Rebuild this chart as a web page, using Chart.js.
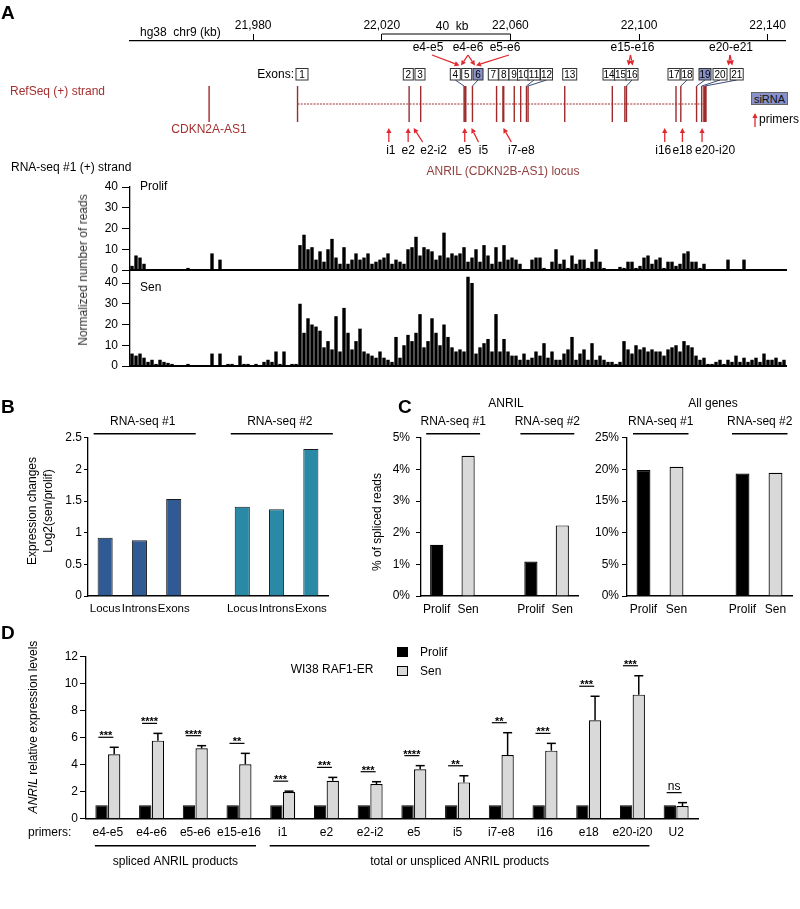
<!DOCTYPE html>
<html>
<head>
<meta charset="utf-8">
<title>ANRIL expression in senescence</title>
<script src="https://cdn.jsdelivr.net/npm/chart.js@4.4.1/dist/chart.umd.min.js"></script>
<style>
  html, body { margin: 0; padding: 0; background: #fff; }
  #stage { position: relative; width: 800px; height: 909px; overflow: hidden; font-family: "Liberation Sans", Arial, sans-serif; }
  #stage canvas { position: absolute; left: 0; top: 0; }
  .lbl { position: absolute; line-height: 1; white-space: pre; }
  .sq { position: absolute; width: 11px; height: 10px; box-sizing: border-box; border: 1px solid #000; }
</style>
</head>
<body>
<div id="stage"></div>
<script>
// ---------- data ----------
// panel A: genome browser (kb on chr9, hg38)
const genomeTicks = [21980, 22020, 22060, 22100, 22140];
const scaleBarKb = [22020, 22060];
const cdkn2aAs1Kb = 21966.3;
const exonKb = [21993.8, 22028.5, 22032.1, 22045.6, 22046.0, 22048.2, 22055.7, 22057.8, 22061.2, 22063.2,
                22065.0, 22065.5, 22076.9, 22091.7, 22095.6, 22096.1, 22111.5, 22113.0, 22117.9, 22119.5, 22120.5];
const sirnaExons = [6, 19];
const primerNames = ['i1', 'e2', 'e2-i2', 'e5', 'i5', 'i7-e8', 'i16', 'e18', 'e20-i20'];
const primerKb = [22022.2, 22028.2, 22029.9, 22045.8, 22047.9, 22057.8, 22108.0, 22113.5, 22119.6];
const junctionNames = ['e4-e5', 'e4-e6', 'e5-e6', 'e15-e16', 'e20-e21'];

// RNA-seq #1 (+) strand coverage, binned along the locus
const readTicks = [0, 10, 20, 30, 40];
const prolifReads = [
  2, 7, 6, 3, 0.5, 0, 0, 0, 0, 0,
  0, 0, 0, 0, 1, 0, 0, 0, 0, 0,
  8, 0, 5, 0.5, 0, 0, 0, 0, 0, 0,
  0, 0, 0, 0, 0, 0, 0, 0, 0, 0,
  0, 0, 12, 17, 10, 11, 5, 9, 4, 10,
  15, 6, 3, 11, 3, 5, 8, 5, 6, 8,
  3, 4, 5, 6, 8, 3, 5, 4, 3, 10,
  11, 16, 7, 11, 10, 9, 5, 7, 18, 6,
  8, 7, 8, 11, 4, 6, 10, 4, 12, 7,
  3, 11, 4, 12, 5, 6, 5, 3, 0.5, 0,
  5, 6, 6, 1, 0.5, 4, 10, 3, 5, 1,
  7, 3, 5, 5, 1, 4, 10, 4, 1, 0,
  0, 0, 1.5, 1, 4, 4, 1, 2, 6, 7,
  3, 5, 6, 1, 4, 4, 2, 3, 8, 9,
  4, 4, 1, 3, 0, 0, 0, 0, 0, 5,
  0, 0, 0, 5, 0, 0, 0, 0, 0, 0,
  0, 0, 0, 0
];
const senReads = [
  6, 5, 6, 4, 2, 3, 1, 3, 2, 1.5,
  1, 0, 0, 0, 1, 0, 0, 0, 0, 0,
  6, 0.5, 6, 0.5, 1, 1, 0, 5, 1, 1,
  0, 1, 0.5, 2, 3, 2, 7, 1, 7, 0.5,
  1, 1, 30, 16, 23, 20, 19, 17, 9, 12,
  8, 24, 7, 28, 16, 8, 12, 18, 7, 6,
  5, 4, 7, 4, 3, 2, 14, 4, 10, 15,
  12, 16, 25, 9, 12, 23, 16, 10, 20, 14,
  9, 7, 8, 7, 43, 40, 6, 9, 11, 13,
  7, 25, 7, 13, 7, 5, 5, 3, 6, 3,
  4, 7, 5, 11, 4, 7, 3, 3, 6, 8,
  14, 3, 6, 8, 3, 11, 3, 5, 3, 2,
  2, 1, 2, 12, 8, 6, 10, 8, 9, 7,
  8, 7, 7, 5, 8, 9, 10, 7, 12, 10,
  9, 5, 3, 4, 1, 1, 2, 3, 1, 3,
  2, 5, 2, 4, 2, 3, 4, 2, 6, 3,
  3, 4, 2, 3
];

// panel B
const bGroups = ['RNA-seq #1', 'RNA-seq #2'];
const bCategories = ['Locus', 'Introns', 'Exons', '', 'Locus', 'Introns', 'Exons'];
const bValues = [0.92, 0.88, 1.53, null, 1.41, 1.37, 2.32];

// panel C
const cGroups = ['RNA-seq #1', 'RNA-seq #2'];
const cCategories = ['Prolif', 'Sen', '', 'Prolif', 'Sen'];
const anrilSpliced = [1.62, 4.43, null, 1.09, 2.23];
const allGenesSpliced = [19.9, 20.4, null, 19.35, 19.45];

// panel D
const dPrimers = ['e4-e5', 'e4-e6', 'e5-e6', 'e15-e16', 'i1', 'e2', 'e2-i2', 'e5', 'i5', 'i7-e8', 'i16', 'e18', 'e20-i20', 'U2'];
const dProlif = [1, 1, 1, 1, 1, 1, 1, 1, 1, 1, 1, 1, 1, 1];
const dSen = [4.77, 5.78, 5.21, 4.03, 1.97, 2.81, 2.57, 3.66, 2.69, 4.72, 5.04, 7.29, 9.19, 0.94];
const dSenErr = [0.52, 0.54, 0.2, 0.81, 0.07, 0.25, 0.17, 0.27, 0.49, 1.65, 0.54, 1.78, 1.4, 0.25];
const dSig = ['***', '****', '****', '**', '***', '***', '***', '****', '**', '**', '***', '***', '***', 'ns'];
const dGroupNames = ['spliced ANRIL products', 'total or unspliced ANRIL products'];
const dGroupSizes = [4, 9];

// ---------- layout helpers ----------
const W = 800, H = 909;
const FONT = '"Liberation Sans", Arial, sans-serif';
const RED = '#e0282e', GENE = '#9e2a2b';
const stage = document.getElementById('stage');

Chart.defaults.font.family = FONT;
Chart.defaults.font.size = 12;
Chart.defaults.color = '#000';
Chart.defaults.animation = false;
Chart.defaults.responsive = false;
Chart.defaults.events = [];
Chart.defaults.plugins.legend.display = false;
Chart.defaults.plugins.tooltip.enabled = false;

function makeCanvas() {
  const c = document.createElement('canvas');
  c.width = W; c.height = H;
  stage.appendChild(c);
  return c;
}

// chart area exactly at [l,r] x [t,b]
function area(l, t, r, b, yW, xH) {
  return { autoPadding: false, padding: { left: l - yW, top: t, right: W - r, bottom: H - b - xH } };
}

function label(html, x, y, o) {
  o = o || {};
  const d = document.createElement('div');
  d.className = 'lbl';
  d.innerHTML = html;
  d.style.left = x + 'px';
  d.style.top = y + 'px';
  d.style.fontSize = (o.size || 12) + 'px';
  if (o.bold) d.style.fontWeight = 'bold';
  d.style.color = o.color || '#000';
  const tx = o.align === 'left' ? '0' : o.align === 'right' ? '-100%' : '-50%';
  d.style.transform = 'translate(' + tx + ', -50%)' + (o.rotate ? ' rotate(-90deg)' : '');
  stage.appendChild(d);
}

function yAxis(width, min, max, ticks, tickLength) {
  return {
    min: min, max: max,
    grid: { drawOnChartArea: false, drawTicks: true, tickLength: tickLength || 5, color: '#000' },
    border: { display: true, color: '#000', width: 1.3 },
    ticks: Object.assign({ padding: 3, color: '#000' }, ticks),
    afterFit: s => { s.width = width; }
  };
}

function catAxis(height, pad, size) {
  return {
    grid: { display: false, drawTicks: false },
    border: { display: true, color: '#000', width: 1.5 },
    ticks: { padding: pad, maxRotation: 0, minRotation: 0, autoSkip: false, color: '#000', font: { size: size || 12 } },
    afterFit: s => { s.height = height; }
  };
}

function seg(ctx, x1, y1, x2, y2) {
  ctx.beginPath(); ctx.moveTo(x1, y1); ctx.lineTo(x2, y2); ctx.stroke();
}

function arrow(ctx, x1, y1, x2, y2) {
  const a = Math.atan2(y2 - y1, x2 - x1), hl = 5, hw = 2.6;
  const bx = x2 - hl * Math.cos(a), by = y2 - hl * Math.sin(a);
  ctx.strokeStyle = RED; ctx.fillStyle = RED; ctx.lineWidth = 1.3;
  seg(ctx, x1, y1, bx, by);
  ctx.beginPath();
  ctx.moveTo(x2, y2);
  ctx.lineTo(bx + hw * Math.sin(a), by - hw * Math.cos(a));
  ctx.lineTo(bx - hw * Math.sin(a), by + hw * Math.cos(a));
  ctx.closePath(); ctx.fill();
}

// group captions with a rule (panels B, C, D)
const groupLines = {
  id: 'groupLines',
  afterDraw(chart, args, opts) {
    if (!opts.groups) return;
    const ctx = chart.ctx, xs = chart.scales.x;
    ctx.save();
    ctx.strokeStyle = '#000'; ctx.lineWidth = 1.5; ctx.fillStyle = '#000';
    ctx.font = '12px ' + FONT; ctx.textAlign = 'center'; ctx.textBaseline = 'middle';
    opts.groups.forEach(g => {
      const x1 = xs.getPixelForValue(g.from) - opts.padL;
      const x2 = xs.getPixelForValue(g.to) + opts.padR;
      seg(ctx, x1, opts.lineY, x2, opts.lineY);
      ctx.fillText(g.label, (x1 + x2) / 2 + (opts.textDx || 0), opts.textY);
    });
    ctx.restore();
  }
};

// ---------- panel A: gene model ----------
const exonBoxX = [302, 408.3, 420, 455.3, 466.7, 478, 493.3, 503.8, 514, 523.5, 534, 546.5, 569.7,
                  609, 620.5, 632, 674, 687, 705, 720, 736.7];
const exonBoxW = [12, 10, 10, 10, 10, 10, 10, 10, 10, 12, 12, 12, 14, 12, 12, 12, 12, 12, 12, 14, 13];
const linkedExons = [4, 6, 11, 12, 16, 18, 19, 20, 21];
const primerTailDx = [0, 0, 9, 0, 7, 8, 0, 0, 0];
const primerLabelDx = [2, 0, 20, 0, 12, 18, -1.5, 0, 13];
const junctionLayout = [
  { x: 428, from: 432, tips: [459.5] },
  { x: 468, from: 468, tips: [461, 475] },
  { x: 505, from: 509, tips: [476] },
  { x: 632.5, from: 630.5, tips: [628.3, 632.7] },
  { x: 731, from: 730, tips: [728.3, 732.3] }
];

const geneAnnot = {
  id: 'geneAnnot',
  afterDatasetsDraw(chart) {
    const ctx = chart.ctx, xs = chart.scales.x;
    const y0 = chart.scales.y.getPixelForValue(0);
    ctx.save();
    // 40 kb scale bar
    const s1 = xs.getPixelForValue(scaleBarKb[0]), s2 = xs.getPixelForValue(scaleBarKb[1]);
    ctx.strokeStyle = '#000'; ctx.lineWidth = 1.2;
    seg(ctx, s1, 34, s2, 34);
    ctx.fillStyle = '#000'; ctx.font = '12px ' + FONT; ctx.textAlign = 'center'; ctx.textBaseline = 'middle';
    ctx.fillText((scaleBarKb[1] - scaleBarKb[0]) + '  kb', (s1 + s2) / 2 + 6, 27);

    // exon number boxes
    const bt = y0 - 35.5, bh = 11.5;
    ctx.strokeStyle = '#3b4a78'; ctx.lineWidth = 1;
    linkedExons.forEach(n => {
      seg(ctx, exonBoxX[n - 1], bt + bh, xs.getPixelForValue(exonKb[n - 1]), y0 - 18);
    });
    ctx.font = '10px ' + FONT;
    exonKb.forEach((kb, i) => {
      const w = exonBoxW[i], x = exonBoxX[i] - w / 2;
      ctx.fillStyle = sirnaExons.includes(i + 1) ? '#8892c9' : '#fff';
      ctx.fillRect(x, bt, w, bh);
      ctx.strokeStyle = '#333';
      ctx.strokeRect(x, bt, w, bh);
      ctx.fillStyle = '#000';
      ctx.fillText(String(i + 1), exonBoxX[i], bt + bh / 2 + 0.5);
    });

    // junction primers (above)
    ctx.font = '12px ' + FONT;
    junctionNames.forEach((name, i) => {
      const j = junctionLayout[i];
      ctx.fillStyle = '#000';
      ctx.fillText(name, j.x, y0 - 56);
      j.tips.forEach(t => arrow(ctx, j.from, y0 - 49, t, y0 - 38.5));
    });

    // primers (below)
    primerNames.forEach((name, i) => {
      const px = xs.getPixelForValue(primerKb[i]);
      arrow(ctx, px + primerTailDx[i], y0 + 38, px, y0 + 24);
      ctx.fillStyle = '#000';
      ctx.font = '12px ' + FONT;
      ctx.fillText(name, px + primerLabelDx[i], y0 + 47);
    });

    // primers legend
    arrow(ctx, 755, 127, 755, 113);
    ctx.fillStyle = '#000'; ctx.textAlign = 'left';
    ctx.fillText('primers', 759, 120);
    ctx.restore();
  }
};

new Chart(makeCanvas(), {
  type: 'scatter',
  data: {
    datasets: [
      {
        type: 'line',
        data: [{ x: exonKb[0], y: 0 }, { x: exonKb[exonKb.length - 1], y: 0 }],
        borderColor: GENE, borderWidth: 1, borderDash: [2, 1.2], pointRadius: 0
      },
      {
        data: exonKb.map(x => ({ x: x, y: 0 })).concat([{ x: cdkn2aAs1Kb, y: 0 }]),
        pointStyle: 'line', pointRotation: 90, pointRadius: 18, pointHoverRadius: 18,
        pointBorderColor: GENE,
        pointBorderWidth: c => (c.dataIndex === 20 ? 3.5 : (c.dataIndex === 4 || c.dataIndex === 7) ? 2.2 : 1.4)
      }
    ]
  },
  options: {
    layout: { autoPadding: false, padding: { left: 130, top: 0, right: 15, bottom: H - 167 } },
    scales: {
      x: {
        type: 'linear', position: 'top', min: 21941.7, max: 22145.4,
        afterBuildTicks: s => { s.ticks = genomeTicks.map(v => ({ value: v })); },
        ticks: { callback: v => v.toLocaleString('en-US'), padding: 1, maxRotation: 0, color: '#000' },
        grid: { drawOnChartArea: false, drawTicks: true, tickLength: 7, color: '#000' },
        border: { display: true, color: '#000', width: 1.2 },
        afterFit: s => { s.height = 41; }
      },
      y: { display: false, min: -1, max: 1 }
    }
  },
  plugins: [geneAnnot]
});

// ---------- panel A: coverage tracks ----------
function trackChart(values, top, zeroY, fortyY) {
  const max = 40 * (zeroY - top) / (zeroY - fortyY);
  return new Chart(makeCanvas(), {
    type: 'bar',
    data: {
      labels: values.map((_, i) => i),
      datasets: [{ data: values, backgroundColor: '#000', borderWidth: 0, categoryPercentage: 0.85, barPercentage: 1 }]
    },
    options: {
      layout: area(130, top, 786, zeroY, 60, 0),
      scales: {
        x: {
          ticks: { display: false },
          grid: { display: false, drawTicks: false },
          border: { display: true, color: '#000', width: 2 },
          afterFit: s => { s.height = 0; }
        },
        y: Object.assign(yAxis(60, 0, max, { padding: 4 }, 8), {
          afterBuildTicks: s => { s.ticks = readTicks.map(v => ({ value: v })); }
        })
      }
    }
  });
}
trackChart(prolifReads, 187, 270, 187);
trackChart(senReads, 270, 366, 283);

// ---------- panel B ----------
new Chart(makeCanvas(), {
  type: 'bar',
  data: {
    labels: bCategories,
    datasets: [{
      data: bValues,
      backgroundColor: bValues.map((_, i) => (i < 3 ? '#2f5a93' : '#2a8aa6')),
      borderColor: '#1b1b1b', borderWidth: 1,
      categoryPercentage: 0.44, barPercentage: 1
    }]
  },
  options: {
    layout: area(88, 437.7, 328, 596, 50, 25),
    scales: {
      x: catAxis(25, 6, 11.5),
      y: yAxis(50, 0, 2.5, { stepSize: 0.5, padding: 2, callback: v => String(v) }, 4)
    },
    plugins: {
      groupLines: {
        groups: bGroups.map((g, k) => ({ label: g, from: k * 4, to: k * 4 + 2 })),
        padL: 11.5, padR: 22, lineY: 433.7, textY: 421.7, textDx: -2
      }
    }
  },
  plugins: [groupLines]
});

// ---------- panel C ----------
function splicedChart(values, l, r, max, step, ylPad) {
  new Chart(makeCanvas(), {
    type: 'bar',
    data: {
      labels: cCategories,
      datasets: [{
        data: values,
        backgroundColor: cCategories.map(c => (c === 'Sen' ? '#d9d9d9' : '#000')),
        borderColor: '#000', borderWidth: 1.2,
        categoryPercentage: 0.42, barPercentage: 1
      }]
    },
    options: {
      layout: area(l, 437.7, r, 596, 50, 25),
      scales: {
        x: catAxis(25, 6),
        y: yAxis(50, 0, max, { stepSize: step, padding: ylPad, callback: v => v + '%' }, 5)
      },
      plugins: {
        groupLines: {
          groups: cGroups.map((g, k) => ({ label: g, from: k * 3, to: k * 3 + 1 })),
          padL: 10.5, padR: 12, lineY: 433.7, textY: 421.7
        }
      }
    },
    plugins: [groupLines]
  });
}
splicedChart(anrilSpliced, 421, 578, 5, 1, 6);
splicedChart(allGenesSpliced, 627, 792, 25, 5, 3);

// ---------- panel D ----------
const dAnnot = {
  id: 'dAnnot',
  afterDatasetsDraw(chart) {
    const ctx = chart.ctx, xs = chart.scales.x, ys = chart.scales.y;
    const bars = chart.getDatasetMeta(1).data;
    ctx.save();
    ctx.strokeStyle = '#000'; ctx.fillStyle = '#000'; ctx.textAlign = 'center'; ctx.textBaseline = 'alphabetic';
    bars.forEach((bar, i) => {
      const top = ys.getPixelForValue(dSen[i] + dSenErr[i]);
      ctx.lineWidth = 1.5;
      seg(ctx, bar.x, bar.y, bar.x, top);
      seg(ctx, bar.x - 4.5, top, bar.x + 4.5, top);
      const cx = xs.getPixelForValue(i) - 2;
      const ly = Math.min(top, ys.getPixelForValue(dProlif[i])) - 10;
      ctx.lineWidth = 1.2;
      seg(ctx, cx - 7.5, ly, cx + 7.5, ly);
      if (dSig[i] === 'ns') {
        ctx.font = '12px ' + FONT;
        ctx.fillText(dSig[i], cx, ly - 3);
      } else {
        ctx.font = 'bold 11px ' + FONT;
        ctx.fillText(dSig[i], cx, ly + 2);
      }
    });
    ctx.restore();
  }
};

let dStart = 0;
const dGroups = dGroupNames.map((g, k) => {
  const grp = { label: g, from: dStart, to: dStart + dGroupSizes[k] - 1 };
  dStart += dGroupSizes[k];
  return grp;
});

new Chart(makeCanvas(), {
  type: 'bar',
  data: {
    labels: dPrimers,
    datasets: [
      { label: 'Prolif', data: dProlif, backgroundColor: '#000', borderColor: '#000', borderWidth: 1, categoryPercentage: 0.58, barPercentage: 0.97 },
      { label: 'Sen', data: dSen, backgroundColor: '#d9d9d9', borderColor: '#000', borderWidth: 1.2, categoryPercentage: 0.58, barPercentage: 0.97 }
    ]
  },
  options: {
    layout: area(86, 656.7, 698, 818.7, 40, 25),
    scales: { x: catAxis(25, 7), y: yAxis(40, 0, 12, { stepSize: 2, padding: 2 }, 6) },
    plugins: {
      groupLines: { groups: dGroups, padL: 13, padR: 17, lineY: 845.7, textY: 861.7 }
    }
  },
  plugins: [groupLines, dAnnot]
});

// ---------- free text ----------
label('A', 1, 12, { size: 19, bold: true, align: 'left' });
label('hg38  chr9 (kb)', 140, 32, { align: 'left' });
label('Exons:', 294, 74, { align: 'right' });
label('RefSeq (+) strand', 10, 91, { align: 'left', color: '#a3302f' });
label('CDKN2A-AS1', 209, 129, { color: '#a3302f' });
label('ANRIL (CDKN2B-AS1) locus', 503, 171, { color: '#94403f' });
label('RNA-seq #1 (+) strand', 11, 167, { align: 'left' });
label('Prolif', 140, 186, { align: 'left' });
label('Sen', 140, 287, { align: 'left' });
label('Normalized number of reads', 83, 270, { rotate: true, color: '#333' });

const si = document.createElement('div');
si.className = 'lbl';
si.textContent = 'siRNA';
Object.assign(si.style, {
  left: '751px', top: '92px', width: '37px', height: '13px', lineHeight: '13px', textAlign: 'center',
  fontSize: '11px', background: '#8892c9', border: '1px solid #666', boxSizing: 'border-box', color: '#111'
});
stage.appendChild(si);

label('B', 1, 406, { size: 19, bold: true, align: 'left' });
label('Expression changes', 32, 511, { rotate: true });
label('Log2(sen/prolif)', 48, 511, { rotate: true });

label('C', 398, 406, { size: 19, bold: true, align: 'left' });
label('% of spliced reads', 377, 522, { rotate: true });
label('ANRIL', 506, 403);
label('All genes', 713, 403);

label('D', 1, 632, { size: 19, bold: true, align: 'left' });
label('<i>ANRIL</i> relative expression levels', 33, 727, { rotate: true });
label('WI38 RAF1-ER', 332, 669);
label('primers:', 28, 832, { align: 'left' });

const sq1 = document.createElement('div');
sq1.className = 'sq';
Object.assign(sq1.style, { left: '397px', top: '647px', background: '#000' });
stage.appendChild(sq1);
const sq2 = document.createElement('div');
sq2.className = 'sq';
Object.assign(sq2.style, { left: '397px', top: '666px', background: '#d9d9d9' });
stage.appendChild(sq2);
label('Prolif', 420, 652, { align: 'left' });
label('Sen', 420, 671, { align: 'left' });
</script>
</body>
</html>
